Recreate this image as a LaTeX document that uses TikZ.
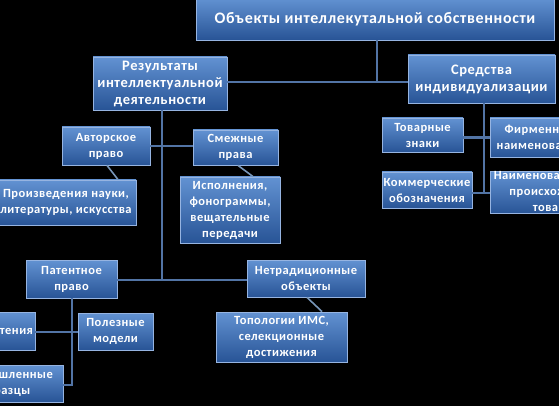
\documentclass[tikz,border=0pt]{standalone}
\usepackage{fontspec}
\setmainfont{Carlito}[LetterSpace=4]
\definecolor{boxtop}{RGB}{98,146,210}
\definecolor{boxmid}{RGB}{62,112,184}
\definecolor{boxbot}{RGB}{40,84,150}
\definecolor{boxline}{RGB}{150,180,225}
\definecolor{conn}{RGB}{82,116,165}
\definecolor{diag}{RGB}{120,150,185}
\tikzset{
  box/.style={rectangle, draw=boxline, line width=0.8pt, top color=boxtop, middle color=boxmid, bottom color=boxbot,
    text=white, align=center, inner sep=0pt, font=\bfseries\fontsize{12.5}{16}\selectfont},
  conn/.style={draw=conn, line width=2.4pt},
  diagc/.style={draw=diag, line width=1.6pt},
}
\begin{document}
\begin{tikzpicture}[x=1pt,y=-1pt]
\fill[black] (0,0) rectangle (559,406);
\useasboundingbox (0,0) rectangle (559,406);
\clip (0,0) rectangle (559,406);
\coordinate (J) at (377,82);
\coordinate (Jr) at (162,280);
\coordinate (Ja) at (162,146);
\coordinate (Sb) at (484,193);
\coordinate (Pb) at (72,385);
\coordinate (Pm) at (72,332);
% boxes
\node[box, minimum width=358pt, minimum height=42pt, font=\bfseries\fontsize{16}{19}\selectfont] (top) at (375,19) {Объекты интеллекутальной собственности};
\node[box, minimum width=134pt, minimum height=53pt, font=\bfseries\fontsize{14.5}{17}\selectfont] (res) at (160,83.5) {Результаты\\интеллектуальной\\деятельности};
\node[box, minimum width=147pt, minimum height=48pt, font=\bfseries\fontsize{14.5}{17}\selectfont] (sred) at (481.5,79) {Средства\\индивидуализации};
\node[box, minimum width=88pt, minimum height=38pt] (avt) at (106,146) {Авторское\\право};
\node[box, minimum width=85pt, minimum height=35pt] (smezh) at (235.5,147.5) {Смежные\\права};
\node[box, minimum width=140pt, minimum height=45pt] (proizv) at (66,202.5) {Произведения науки,\\литературы, искусства};
\node[box, minimum width=100pt, minimum height=66pt] (ispoln) at (230,210) {Исполнения,\\фонограммы,\\вещательные\\передачи};
\node[box, minimum width=81pt, minimum height=34pt] (tov) at (422.5,135) {Товарные\\знаки};
\node[box, minimum width=100pt, minimum height=39pt] (firm) at (540,137.5) {Фирменные\\наименования};
\node[box, minimum width=90pt, minimum height=36pt] (komm) at (427,190) {Коммерческие\\обозначения};
\node[box, minimum width=132pt, minimum height=41pt] (naim) at (556,192.5) {Наименования места\\происхождения\\товаров};
\node[box, minimum width=91pt, minimum height=38pt] (pat) at (71.5,279) {Патентное\\право};
\node[box, minimum width=118pt, minimum height=37pt] (netr) at (306,278.5) {Нетрадиционные\\объекты};
\node[box, minimum width=80pt, minimum height=38pt] (izob) at (-5,331) {Изобретения};
\node[box, minimum width=75pt, minimum height=37pt] (polez) at (115.5,331.5) {Полезные\\модели};
\node[box, minimum width=116pt, minimum height=37pt] (prom) at (5,383.5) {Промышленные\\образцы};
\node[box, minimum width=131pt, minimum height=50pt] (topol) at (281.5,337) {Топологии ИМС,\\селекционные\\достижения};
% connectors
\draw[conn] (top.south -| J) -- (J);
\draw[conn] (res.east |- J) -- (sred.west |- J);
\draw[conn] (res.south -| Jr) -- (Jr);
\draw[conn] (avt.east |- Ja) -- (smezh.west |- Ja);
\draw[conn] (pat.east |- Jr) -- (netr.west |- Jr);
\draw[conn] (pat.south -| Pb) -- (Pb) -- (prom.east |- Pb);
\draw[conn] (izob.east |- Pm) -- (polez.west |- Pm);
\draw[conn] (sred.south -| Sb) -- (Sb);
\draw[conn] (tov.east |- firm.west) -- (firm.west);
\draw[conn] (komm.east |- Sb) -- (naim.west |- Sb);
\draw[diagc] ([xshift=1pt]avt.south) -- ([xshift=52pt]proizv.north);
\draw[diagc] ([xshift=2.5pt]smezh.south) -- ([xshift=23pt]ispoln.north);
\draw[diagc] ([xshift=1pt]netr.south) -- ([xshift=40.5pt]topol.north);
\end{tikzpicture}
\end{document}
